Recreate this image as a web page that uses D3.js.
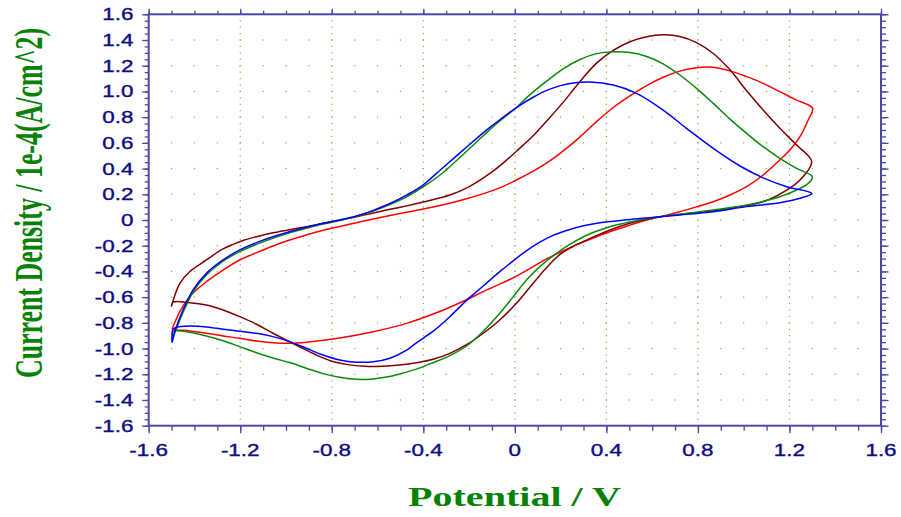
<!DOCTYPE html>
<html>
<head>
<meta charset="utf-8">
<script src="https://cdn.jsdelivr.net/npm/d3@7"></script>
<style>
  html, body { margin: 0; padding: 0; background: #ffffff; }
  svg { display: block; }
</style>
</head>
<body>
<svg id="chart" width="901" height="517"></svg>
<script>
// ---------------- data (Potential V, Current density 1e-4 A/cm^2) ----------------
const xTickLabels = ["-1.6", "-1.2", "-0.8", "-0.4", "0", "0.4", "0.8", "1.2", "1.6"];
const yTickLabels = ["1.6", "1.4", "1.2", "1.0", "0.8", "0.6", "0.4", "0.2", "0",
                     "-0.2", "-0.4", "-0.6", "-0.8", "-1.0", "-1.2", "-1.4", "-1.6"];
const xTitle = "Potential / V";
const yTitle = "Current Density / 1e-4(A/cm^2)";

const seriesRed = [
  [-1.498,-0.850],[-1.464,-0.713],[-1.421,-0.596],[-1.348,-0.480],[-1.275,-0.389],[-1.202,-0.311],
  [-1.129,-0.254],[-1.057,-0.202],[-0.984,-0.156],[-0.911,-0.117],[-0.838,-0.080],[-0.765,-0.050],
  [-0.692,-0.021],[-0.619,0.008],[-0.546,0.035],[-0.473,0.060],[-0.401,0.085],[-0.328,0.112],
  [-0.211,0.165],[-0.066,0.250],[0.007,0.311],[0.080,0.380],[0.153,0.460],[0.220,0.550],
  [0.284,0.645],[0.357,0.765],[0.430,0.875],[0.503,0.965],[0.576,1.045],[0.648,1.110],
  [0.721,1.158],[0.794,1.185],[0.867,1.188],[0.940,1.160],[1.013,1.115],[1.085,1.063],
  [1.158,0.998],[1.231,0.933],[1.301,0.868],
  [1.282,0.778],[1.246,0.648],[1.202,0.544],[1.158,0.467],[1.085,0.350],[1.013,0.259],
  [0.940,0.194],[0.867,0.142],[0.794,0.102],[0.721,0.065],[0.648,0.030],[0.576,0.000],
  [0.503,-0.040],[0.430,-0.082],[0.357,-0.130],[0.284,-0.182],[0.226,-0.228],[0.139,-0.303],
  [0.007,-0.437],[-0.138,-0.557],[-0.211,-0.620],[-0.340,-0.720],[-0.473,-0.804],[-0.619,-0.869],
  [-0.765,-0.918],[-0.911,-0.950],[-0.984,-0.958],[-1.057,-0.954],[-1.129,-0.941],[-1.202,-0.920],
  [-1.275,-0.902],[-1.348,-0.881],[-1.421,-0.863],[-1.479,-0.855],[-1.498,-0.850]
];

const seriesMaroon = [
  [-1.501,-0.674],[-1.464,-0.492],[-1.421,-0.402],[-1.348,-0.311],[-1.275,-0.225],[-1.202,-0.169],
  [-1.129,-0.130],[-1.057,-0.100],[-0.984,-0.076],[-0.911,-0.052],[-0.838,-0.026],[-0.765,0.000],
  [-0.692,0.026],[-0.619,0.055],[-0.546,0.083],[-0.473,0.110],[-0.401,0.140],[-0.284,0.194],
  [-0.197,0.262],[-0.109,0.362],[-0.040,0.460],[0.007,0.535],[0.080,0.655],[0.139,0.770],
  [0.211,0.915],[0.284,1.076],[0.357,1.220],[0.430,1.320],[0.503,1.387],[0.576,1.426],
  [0.648,1.440],[0.721,1.428],[0.794,1.380],[0.867,1.295],[0.940,1.168],[1.013,1.005],
  [1.085,0.855],[1.158,0.713],[1.231,0.583],[1.297,0.453],
  [1.246,0.311],[1.188,0.233],[1.085,0.142],[0.940,0.091],[0.806,0.058],[0.663,0.033],
  [0.576,0.005],[0.517,-0.018],[0.430,-0.068],[0.372,-0.110],[0.310,-0.158],[0.250,-0.210],
  [0.197,-0.268],[0.139,-0.370],[0.080,-0.492],[0.007,-0.648],[-0.066,-0.778],[-0.138,-0.881],
  [-0.211,-0.970],[-0.284,-1.037],[-0.357,-1.083],[-0.430,-1.110],[-0.503,-1.128],[-0.580,-1.138],
  [-0.655,-1.138],[-0.730,-1.125],[-0.800,-1.098],[-0.870,-1.048],[-0.950,-0.978],[-1.057,-0.881],
  [-1.129,-0.811],[-1.202,-0.752],[-1.275,-0.700],[-1.348,-0.661],[-1.421,-0.643],[-1.494,-0.640],
  [-1.501,-0.674]
];

const seriesGreen = [
  [-1.494,-0.907],[-1.479,-0.845],[-1.450,-0.720],[-1.406,-0.560],[-1.348,-0.428],[-1.275,-0.320],
  [-1.202,-0.246],[-1.129,-0.190],[-1.057,-0.143],[-0.984,-0.100],[-0.911,-0.065],[-0.838,-0.032],
  [-0.765,-0.005],[-0.692,0.030],[-0.619,0.070],[-0.546,0.120],[-0.473,0.180],[-0.401,0.258],
  [-0.328,0.348],[-0.226,0.510],[-0.138,0.655],[-0.066,0.770],[0.007,0.875],[0.066,0.975],
  [0.139,1.080],[0.211,1.175],[0.284,1.248],[0.357,1.294],[0.430,1.309],[0.503,1.302],
  [0.576,1.272],[0.648,1.215],[0.721,1.128],[0.794,1.024],[0.867,0.907],[0.940,0.785],
  [1.013,0.674],[1.085,0.570],[1.158,0.480],[1.231,0.402],[1.300,0.337],
  [1.282,0.285],[1.231,0.233],[1.158,0.181],[1.013,0.117],[0.867,0.078],[0.721,0.045],
  [0.576,0.010],[0.503,-0.015],[0.430,-0.045],[0.372,-0.078],[0.300,-0.130],[0.240,-0.190],
  [0.182,-0.259],[0.109,-0.363],[0.051,-0.467],[-0.007,-0.596],[-0.066,-0.726],[-0.138,-0.865],
  [-0.211,-0.980],[-0.284,-1.055],[-0.357,-1.110],[-0.430,-1.160],[-0.503,-1.198],[-0.560,-1.222],
  [-0.619,-1.236],[-0.692,-1.239],[-0.765,-1.223],[-0.838,-1.195],[-0.911,-1.153],[-0.984,-1.109],
  [-1.057,-1.073],[-1.129,-1.032],[-1.202,-0.985],[-1.275,-0.939],[-1.348,-0.902],[-1.421,-0.873],
  [-1.479,-0.861],[-1.494,-0.870],[-1.494,-0.907]
];

const seriesBlue = [
  [-1.498,-0.954],[-1.479,-0.830],[-1.450,-0.700],[-1.406,-0.544],[-1.348,-0.415],[-1.275,-0.311],
  [-1.202,-0.233],[-1.129,-0.176],[-1.057,-0.130],[-0.984,-0.091],[-0.911,-0.057],[-0.838,-0.026],
  [-0.765,0.000],[-0.692,0.031],[-0.619,0.075],[-0.546,0.128],[-0.473,0.194],[-0.401,0.272],
  [-0.342,0.363],[-0.226,0.544],[-0.109,0.720],[0.007,0.875],[0.080,0.955],[0.139,1.008],
  [0.200,1.045],[0.255,1.066],[0.328,1.073],[0.430,1.050],[0.532,0.985],[0.648,0.855],
  [0.750,0.713],[0.867,0.557],[0.984,0.420],[1.085,0.328],[1.188,0.259],[1.297,0.207],
  [1.246,0.169],[1.158,0.135],[1.013,0.104],[0.867,0.065],[0.721,0.039],[0.576,0.015],
  [0.480,0.000],[0.372,-0.021],[0.300,-0.045],[0.226,-0.082],[0.160,-0.125],[0.109,-0.172],
  [0.050,-0.240],[0.007,-0.298],[-0.066,-0.402],[-0.138,-0.513],[-0.211,-0.625],[-0.284,-0.752],
  [-0.357,-0.865],[-0.430,-0.955],[-0.473,-1.012],[-0.546,-1.075],[-0.619,-1.103],[-0.692,-1.106],
  [-0.765,-1.089],[-0.838,-1.050],[-0.911,-0.998],[-0.984,-0.946],[-1.057,-0.907],[-1.129,-0.881],
  [-1.202,-0.866],[-1.275,-0.850],[-1.348,-0.832],[-1.421,-0.824],[-1.479,-0.835],[-1.494,-0.850],
  [-1.498,-0.954]
];

const seriesList = [
  { data: seriesRed,    color: "#ff0000" },
  { data: seriesMaroon, color: "#800000" },
  { data: seriesGreen,  color: "#0a8a0a" },
  { data: seriesBlue,   color: "#0000ff" }
];

// ---------------- layout ----------------
const svg = d3.select("#chart");
const plotLeft = 148.7, plotRight = 881, plotTop = 14.3, plotBottom = 425.7;
const x = d3.scaleLinear().domain([-1.6, 1.6]).range([plotLeft, plotRight]);
const y = d3.scaleLinear().domain([-1.6, 1.6]).range([plotBottom, plotTop]);

const axisColor = "#4a4aa6";
const labelColor = "#0c0c84";
const gridColor = "#86ad4c";
const titleColor = "#078207";

// ---------------- grid of dots ----------------
const gridG = svg.append("g");
const majorX = d3.range(-1.2, 1.2001, 0.4);
const minorX = d3.range(-1.5, 1.5001, 0.1);
const majorY = d3.range(-1.4, 1.4001, 0.2);
const minorY = d3.range(-1.55, 1.5501, 0.05);
majorX.forEach(vx => {
  minorY.forEach(vy => {
    gridG.append("rect").attr("x", x(vx) - 0.6).attr("y", y(vy) - 0.6)
      .attr("width", 1.2).attr("height", 1.2).attr("fill", gridColor);
  });
});
majorY.forEach(vy => {
  minorX.forEach(vx => {
    gridG.append("rect").attr("x", x(vx) - 0.6).attr("y", y(vy) - 0.6)
      .attr("width", 1.2).attr("height", 1.2).attr("fill", gridColor);
  });
});

// ---------------- curves ----------------
const line = d3.line()
  .x(d => x(d[0]))
  .y(d => y(d[1]))
  .curve(d3.curveCatmullRom.alpha(0.5));

seriesList.forEach(s => {
  svg.append("path")
    .attr("d", line(s.data))
    .attr("fill", "none")
    .attr("stroke", s.color)
    .attr("stroke-width", 1.5)
    .attr("stroke-linejoin", "round");
});

// ---------------- axes ----------------
function styleAxis(g) {
  g.select(".domain").remove();
  g.selectAll("line").attr("stroke", axisColor).attr("stroke-width", 1.3);
  g.selectAll("text").remove();
}
const xMinorTicks = d3.range(-1.6, 1.6001, 0.1);
const xMajorTicks = d3.range(-1.6, 1.6001, 0.4);
const yMinorTicks = d3.range(-1.6, 1.6001, 0.05);
const yMajorTicks = d3.range(-1.6, 1.6001, 0.2);

svg.append("g").attr("transform", `translate(0,${plotBottom})`)
  .call(d3.axisBottom(x).tickValues(xMinorTicks).tickSize(5)).call(styleAxis);
svg.append("g").attr("transform", `translate(0,${plotBottom})`)
  .call(d3.axisBottom(x).tickValues(xMajorTicks).tickSize(7.5)).call(styleAxis);
svg.append("g").attr("transform", `translate(0,${plotTop})`)
  .call(d3.axisTop(x).tickValues(xMinorTicks).tickSize(3.5)).call(styleAxis);
svg.append("g").attr("transform", `translate(0,${plotTop})`)
  .call(d3.axisTop(x).tickValues(xMajorTicks).tickSize(5.5)).call(styleAxis);
svg.append("g").attr("transform", `translate(${plotLeft},0)`)
  .call(d3.axisLeft(y).tickValues(yMinorTicks).tickSize(4)).call(styleAxis);
svg.append("g").attr("transform", `translate(${plotLeft},0)`)
  .call(d3.axisLeft(y).tickValues(yMajorTicks).tickSize(6.5)).call(styleAxis);
svg.append("g").attr("transform", `translate(${plotRight},0)`)
  .call(d3.axisRight(y).tickValues(yMinorTicks).tickSize(5)).call(styleAxis);
svg.append("g").attr("transform", `translate(${plotRight},0)`)
  .call(d3.axisRight(y).tickValues(yMajorTicks).tickSize(7.5)).call(styleAxis);

svg.append("rect")
  .attr("x", plotLeft).attr("y", plotTop)
  .attr("width", plotRight - plotLeft).attr("height", plotBottom - plotTop)
  .attr("fill", "none").attr("stroke", axisColor).attr("stroke-width", 2);

// ---------------- tick labels ----------------
const labelFont = "'Liberation Sans', Arial, sans-serif";
xTickLabels.forEach((t, i) => {
  svg.append("text")
    .attr("transform", `translate(${x(xMajorTicks[i])},456) scale(1.36,1)`)
    .attr("text-anchor", "middle")
    .attr("font-family", labelFont).attr("font-size", 16.5)
    .attr("fill", labelColor).attr("stroke", labelColor).attr("stroke-width", 0.35)
    .text(t);
});
yTickLabels.forEach((t, i) => {
  const v = 1.6 - i * 0.2;
  svg.append("text")
    .attr("transform", `translate(133.5,${y(v) + 6}) scale(1.36,1)`)
    .attr("text-anchor", "end")
    .attr("font-family", labelFont).attr("font-size", 16.5)
    .attr("fill", labelColor).attr("stroke", labelColor).attr("stroke-width", 0.35)
    .text(t);
});

// ---------------- titles ----------------
const titleFont = "'Liberation Serif', 'Times New Roman', serif";
svg.append("text")
  .attr("x", 514.5).attr("y", 505.7)
  .attr("text-anchor", "middle")
  .attr("font-family", titleFont).attr("font-weight", "bold").attr("font-size", 28)
  .attr("textLength", 213).attr("lengthAdjust", "spacingAndGlyphs")
  .attr("fill", titleColor).text(xTitle);

svg.append("text")
  .attr("transform", "translate(42,203) scale(1.43,1) rotate(-90)")
  .attr("text-anchor", "middle")
  .attr("font-family", titleFont).attr("font-weight", "bold").attr("font-size", 28)
  .attr("textLength", 350).attr("lengthAdjust", "spacingAndGlyphs")
  .attr("fill", titleColor).text(yTitle);
</script>
</body>
</html>
